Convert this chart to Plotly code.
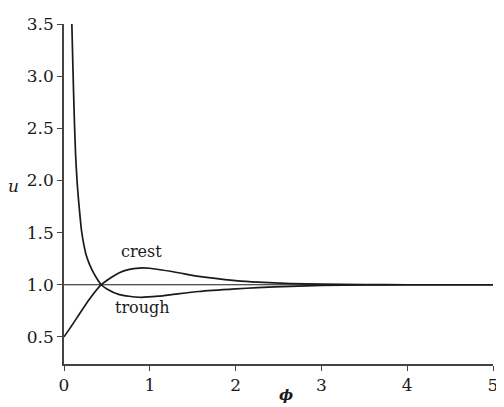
import plotly.graph_objects as go

# trough curve (starts very high, dips below 1)
trough_x = [0.09, 0.105, 0.12, 0.135, 0.153, 0.173, 0.204, 0.23, 0.26, 0.3, 0.34, 0.39, 0.434, 0.5, 0.645, 0.88, 1.1, 1.3, 1.57, 2.0, 2.26, 2.64, 3.0, 3.5, 4.0, 5.0]
trough_u = [3.55, 3.05, 2.6, 2.25, 1.98, 1.78, 1.52, 1.39, 1.28, 1.19, 1.12, 1.05, 1.0, 0.96, 0.905, 0.88, 0.89, 0.91, 0.935, 0.96, 0.972, 0.985, 0.993, 0.998, 1.0, 1.0]

# crest curve (starts at 0.5, rises above 1)
crest_x = [0.0, 0.1, 0.18, 0.3, 0.434, 0.55, 0.645, 0.75, 0.88, 1.0, 1.3, 1.57, 2.0, 2.26, 2.64, 3.0, 3.5, 4.0, 5.0]
crest_u = [0.5, 0.62, 0.72, 0.865, 1.0, 1.07, 1.115, 1.145, 1.16, 1.158, 1.12, 1.08, 1.04, 1.025, 1.012, 1.005, 1.001, 1.0, 1.0]

# reference level
ref_x = [0.0, 5.0]
ref_u = [1.0, 1.0]

x_ticks = [0, 1, 2, 3, 4, 5]
y_ticks = [0.5, 1.0, 1.5, 2.0, 2.5, 3.0, 3.5]

line_col = "#1a1a1a"
font = "DejaVu Serif"

# the page body adds an 8px offset, so the figure is sized to fit the 504x407 window
OFF = 8
W, H = 504 - OFF, 407 - OFF
l, r, t, b = 64 - OFF, 6, 16 - OFF, 43
pw, ph = W - l - r, H - t - b


def px_to_paper(X, Y):
    return (X - OFF - l) / pw, (H - b - (Y - OFF)) / ph


fig = go.Figure()
fig.add_trace(go.Scatter(x=ref_x, y=ref_u, mode="lines", line=dict(color=line_col, width=1.2), showlegend=False))
fig.add_trace(go.Scatter(x=trough_x, y=trough_u, mode="lines", line=dict(color=line_col, width=1.7, shape="spline", smoothing=0.6), showlegend=False))
fig.add_trace(go.Scatter(x=crest_x, y=crest_u, mode="lines", line=dict(color=line_col, width=1.7, shape="spline", smoothing=0.6), showlegend=False))

ux, uy = px_to_paper(13, 182)
phx, phy = px_to_paper(289, 396)

fig.update_layout(
    width=W, height=H,
    margin=dict(l=l, r=r, t=t, b=b),
    plot_bgcolor="white", paper_bgcolor="white",
    font=dict(family=font, size=17, color="#1a1a1a"),
    xaxis=dict(range=[0, 5], tickvals=x_ticks, ticktext=[str(v) for v in x_ticks],
               tickfont=dict(family=font, size=17), ticklabeloverflow="allow",
               showgrid=False, zeroline=False, showline=True, linecolor="#444", linewidth=1.5,
               ticks="outside", ticklen=5, tickcolor="#444", tickwidth=1),
    yaxis=dict(range=[0.24, 3.5], tickvals=y_ticks, ticktext=[f"{v:.1f}" for v in y_ticks],
               tickfont=dict(family=font, size=17), ticklabeloverflow="allow",
               showgrid=False, zeroline=False, showline=True, linecolor="#444", linewidth=1.5,
               ticks="outside", ticklen=5, tickcolor="#444", tickwidth=1),
    annotations=[
        dict(x=0.9, y=1.32, xref="x", yref="y", text="crest", showarrow=False,
             xanchor="center", yanchor="middle", font=dict(family=font, size=16)),
        dict(x=0.92, y=0.785, xref="x", yref="y", text="trough", showarrow=False,
             xanchor="center", yanchor="middle", font=dict(family=font, size=16)),
        dict(x=ux, y=uy, xref="paper", yref="paper", text="<i>u</i>", showarrow=False,
             xanchor="center", yanchor="middle", font=dict(family=font, size=17)),
        dict(x=phx, y=phy, xref="paper", yref="paper", text="<b><i>ϕ</i></b>", showarrow=False,
             xanchor="center", yanchor="middle", font=dict(family=font, size=15)),
    ],
)

fig.write_html("out.html")
